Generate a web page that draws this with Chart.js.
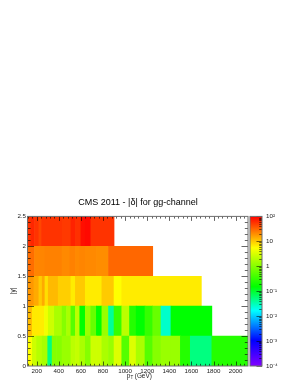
<!DOCTYPE html>
<html>
<head>
<meta charset="utf-8">
<script src="https://cdn.jsdelivr.net/npm/chart.js@4"></script>
<style>
    body { margin: 0; background: #fff; }
    canvas { position: absolute; left: 0; top: 0; }
</style>
</head>
<body>
<canvas id="map" width="276" height="385"></canvas>
<canvas id="bar" width="298" height="385"></canvas>
<script>
// |y| bins
const rowCenters = [0.25, 0.75, 1.25, 1.75, 2.25];

// pT bin edges (GeV) and the |delta| value of each bin, one pair per |y| row
const edges0 = [120, 160, 200, 250, 300, 340, 380, 430, 510, 550, 590, 640, 690, 740, 790, 850, 900, 970, 1040, 1100, 1180, 1250, 1325, 1415, 1500, 1590, 1785, 2110];
const values0 = [5.5, 2.7, 2.0, 1.6, 0.05, 1.0, 1.0, 1.3, 2.1, 2.4, 1.65, 1.0, 2.7, 2.7, 1.65, 1.3, 3.4, 0.5, 3.4, 1.65, 0.5, 1.0, 1.3, 1.3, 0.25, 0.05, 0.25];
const edges1 = [120, 160, 230, 270, 305, 360, 430, 470, 510, 550, 590, 640, 690, 740, 790, 850, 900, 970, 1040, 1100, 1180, 1250, 1325, 1415, 1785];
const values1 = [12, 7, 6.8, 4.5, 2.7, 1.65, 1.0, 1.65, 0.5, 2.1, 0.15, 1.3, 0.65, 0.15, 1.3, 0.04, 0.32, 2.1, 0.25, 0.15, 0.32, 0.65, 0.026, 0.15];
const edges2 = [120, 175, 220, 250, 275, 305, 395, 510, 550, 640, 790, 900, 970, 1690];
const values2 = [18, 14.5, 10, 14.5, 8, 12, 9.5, 6.8, 10, 6.8, 10, 5.5, 6.8];
const edges3 = [120, 180, 275, 430, 500, 550, 590, 640, 740, 850, 1250];
const values3 = [29, 22, 23, 21, 23, 21, 22, 21, 20, 31];
const edges4 = [120, 150, 180, 220, 245, 430, 510, 550, 600, 640, 690, 900];
const values4 = [56, 65, 56, 45, 56, 52, 68, 58, 85, 90, 56];

// tick labels
const xTicks = [200, 400, 600, 800, 1000, 1200, 1400, 1600, 1800, 2000];
const yTicks = [0, 0.5, 1, 1.5, 2, 2.5];
const colorTicks = [100, 10, 1, 0.1, 0.01, 0.001, 0.0001];
const colorLabels = ["10²", "10", "1", "10⁻¹", "10⁻²", "10⁻³", "10⁻⁴"];

// colour palette along the log z axis
const paletteStops = [0, 0.17, 0.37, 0.53, 0.79, 1];
const paletteColors = [[128, 0, 255], [0, 0, 255], [0, 255, 255], [0, 255, 0], [255, 255, 0], [255, 0, 0]];

const zMin = 1e-4, zMax = 100;
const frameColor = "#6e6e6e";
const tickColor = "rgba(0,0,0,0.6)";
const fontFamily = "'Liberation Sans', Arial, sans-serif";

function colorOf(value) {
    const t = (Math.log10(value) - Math.log10(zMin)) / (Math.log10(zMax) - Math.log10(zMin));
    let i = 0;
    while (i < paletteStops.length - 2 && t > paletteStops[i + 1]) i++;
    const f = (t - paletteStops[i]) / (paletteStops[i + 1] - paletteStops[i]);
    const c = paletteColors[i].map((a, k) => Math.round(a + (paletteColors[i + 1][k] - a) * f));
    return `rgb(${c[0]},${c[1]},${c[2]})`;
}

function makeRow(y, edges, values) {
    return {
        data: values.map((v, i) => ({ x: [edges[i], edges[i + 1]], y: y })),
        backgroundColor: values.map(colorOf),
        borderWidth: 0,
    };
}

function line(ctx, x0, y0, x1, y1) {
    ctx.beginPath();
    ctx.moveTo(x0, y0);
    ctx.lineTo(x1, y1);
    ctx.stroke();
}

// ROOT style frame: inward ticks on all four sides, plus the axis titles
const framePlugin = {
    id: "frame",
    afterDatasetsDraw(chart) {
        const { ctx, chartArea: a, scales } = chart;
        ctx.save();
        ctx.strokeStyle = tickColor;
        ctx.lineWidth = 1;
        for (let v = 120; v <= 2080; v += 40) {
            const px = Math.round(scales.x.getPixelForValue(v)) + 0.5;
            const len = v % 200 === 0 ? 4.5 : 2.2;
            line(ctx, px, a.bottom, px, a.bottom - len);
            line(ctx, px, a.top, px, a.top + len);
        }
        for (let k = 1; k < 25; k++) {
            const py = Math.round(scales.y.getPixelForValue(k / 10)) + 0.5;
            const len = k % 5 === 0 ? 6.5 : 3.2;
            line(ctx, a.left, py, a.left + len, py);
            line(ctx, a.right, py, a.right - len, py);
        }
        ctx.strokeStyle = frameColor;
        ctx.strokeRect(a.left, a.top, a.right - a.left, a.bottom - a.top);

        ctx.fillStyle = "#222";
        ctx.textBaseline = "middle";
        ctx.textAlign = "left";
        ctx.font = `6.4px ${fontFamily}`;
        ctx.fillText("p", 126.8, 376);
        ctx.font = `4.5px ${fontFamily}`;
        ctx.fillText("T", 130.4, 378);
        ctx.font = `6.4px ${fontFamily}`;
        ctx.fillText(" (GeV)", 133, 376);

        ctx.translate(13, 291);
        ctx.rotate(-Math.PI / 2);
        ctx.textAlign = "center";
        ctx.fillText("|y|", 0, 0);
        ctx.restore();
    },
};

// minor and major ticks of the log colour bar, drawn from its right side
const colorTickPlugin = {
    id: "colorTicks",
    afterDatasetsDraw(chart) {
        const { ctx, chartArea: a, scales } = chart;
        ctx.save();
        ctx.strokeStyle = "rgba(0,0,0,0.55)";
        ctx.lineWidth = 1;
        colorTicks.forEach((decade) => {
            [1, 2, 3, 4, 5, 6, 7, 8, 9].forEach((m) => {
                const v = decade * m;
                if (v > zMax) return;
                const py = Math.round(scales.y.getPixelForValue(v)) + 0.5;
                line(ctx, a.right, py, a.right - (m === 1 ? 5.5 : 2.8), py);
            });
        });
        ctx.strokeStyle = frameColor;
        ctx.strokeRect(a.left, a.top, a.right - a.left, a.bottom - a.top);
        ctx.restore();
    },
};

new Chart(document.getElementById("map"), {
    type: "bar",
    data: {
        datasets: [
            makeRow(rowCenters[0], edges0, values0),
            makeRow(rowCenters[1], edges1, values1),
            makeRow(rowCenters[2], edges2, values2),
            makeRow(rowCenters[3], edges3, values3),
            makeRow(rowCenters[4], edges4, values4),
        ],
    },
    options: {
        indexAxis: "y",
        responsive: false,
        animation: false,
        events: [],
        datasets: { bar: { grouped: false, barPercentage: 1, categoryPercentage: 1 } },
        plugins: {
            legend: { display: false },
            tooltip: { enabled: false },
            title: {
                display: true,
                text: "CMS 2011 - |δ| for gg-channel",
                color: "#000",
                font: { family: fontFamily, size: 9, weight: "normal", lineHeight: 1.2 },
                padding: { top: 197.6, bottom: 8 },
            },
        },
        scales: {
            x: {
                type: "linear",
                min: 117,
                max: 2112,
                grid: { display: false, drawTicks: false },
                border: { display: false },
                afterBuildTicks: (s) => { s.ticks = xTicks.map((v) => ({ value: v })); },
                afterFit: (s) => { s.height = 19; },
                ticks: {
                    autoSkip: false,
                    maxRotation: 0,
                    padding: 2,
                    color: "#222",
                    font: { family: fontFamily, size: 6.2 },
                    callback: (v) => String(v),
                },
            },
            y: {
                type: "linear",
                offset: false,
                min: 0,
                max: 2.5,
                grid: { display: false, drawTicks: false },
                border: { display: false },
                afterBuildTicks: (s) => { s.ticks = yTicks.map((v) => ({ value: v })); },
                afterFit: (s) => { s.width = 27.5; },
                ticks: {
                    autoSkip: false,
                    padding: 1.5,
                    color: "#222",
                    font: { family: fontFamily, size: 6.2 },
                    callback: (v) => String(v),
                },
            },
            // empty axis: holds the room of the colour bar so the title stays centred on the pad
            pad: {
                type: "linear",
                position: "right",
                grid: { display: false, drawTicks: false },
                border: { display: false },
                ticks: { display: false },
                afterFit: (s) => { s.width = 28; },
            },
        },
    },
    plugins: [framePlugin],
});

new Chart(document.getElementById("bar"), {
    type: "bar",
    data: {
        labels: ["z"],
        datasets: [{
            data: [[zMin, zMax]],
            borderWidth: 0,
            backgroundColor: (c) => {
                const a = c.chart.chartArea;
                if (!a) return "#fff";
                const g = c.chart.ctx.createLinearGradient(0, a.bottom, 0, a.top);
                paletteStops.forEach((s, i) => g.addColorStop(s, `rgb(${paletteColors[i].join(",")})`));
                return g;
            },
        }],
    },
    options: {
        responsive: false,
        animation: false,
        events: [],
        layout: { padding: { left: 250, top: 216.4, bottom: 19 } },
        datasets: { bar: { barPercentage: 1, categoryPercentage: 1 } },
        plugins: { legend: { display: false }, tooltip: { enabled: false } },
        scales: {
            x: { display: false },
            y: {
                type: "logarithmic",
                position: "right",
                min: zMin,
                max: zMax,
                grid: { display: false, drawTicks: false },
                border: { display: false },
                afterBuildTicks: (s) => { s.ticks = colorTicks.map((v) => ({ value: v })); },
                afterFit: (s) => { s.width = 36; },
                ticks: {
                    autoSkip: false,
                    padding: 4,
                    color: "#222",
                    font: { family: fontFamily, size: 6.2 },
                    callback: (v) => colorLabels[colorTicks.indexOf(v)],
                },
            },
        },
    },
    plugins: [colorTickPlugin],
});
</script>
</body>
</html>
